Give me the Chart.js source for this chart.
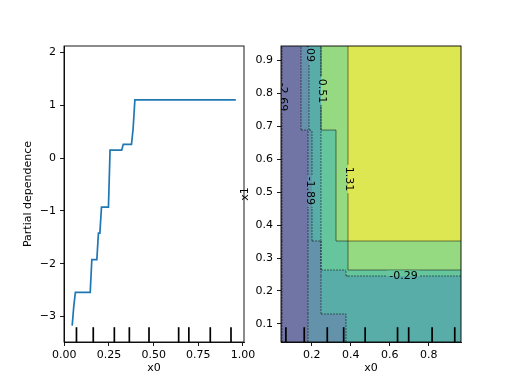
<!DOCTYPE html>
<html><head><meta charset="utf-8">
<script src="https://cdn.jsdelivr.net/npm/chart.js@4.4.0/dist/chart.umd.min.js"></script>
<style>
html,body{margin:0;padding:0;background:#fff;width:512px;height:384px;overflow:hidden}
canvas{position:absolute;top:0}
#c1{left:0}
#c2{left:230px}
</style></head><body>
<canvas id="c1" width="264" height="384"></canvas>
<canvas id="c2" width="282" height="384"></canvas>
<script>
// ---- one-way partial dependence (x0) ----
const pdX = [0.044, 0.053, 0.062, 0.145, 0.154, 0.182, 0.191, 0.199, 0.208, 0.247, 0.256, 0.321, 0.330, 0.376, 0.385, 0.395, 0.960];
const pdY = [-3.17, -2.80, -2.54, -2.54, -1.92, -1.92, -1.42, -1.42, -0.93, -0.93, 0.15, 0.15, 0.26, 0.26, 0.55, 1.10, 1.10];
// deciles of x0
const decilesX0 = [0.068, 0.162, 0.280, 0.364, 0.474, 0.640, 0.697, 0.817, 0.933];

// ---- two-way partial dependence (x0, x1), piecewise constant ----
const x0Edges = [0.043, 0.050, 0.147, 0.180, 0.188, 0.204, 0.248, 0.325, 0.377, 0.387, 0.965];
const x1Edges = [0.045, 0.130, 0.244, 0.264, 0.351, 0.689, 0.944];
// rows from bottom (low x1) to top, columns along x0
const pdGrid = [
  [-3.23, -2.40, -2.05, -1.60, -1.55, -1.35, -1.25, -1.15, -0.95, -0.80],
  [-3.15, -2.30, -1.95, -1.50, -1.45, -1.25, -1.00, -0.90, -0.60, -0.45],
  [-3.10, -2.25, -1.92, -1.45, -1.40, -1.20, -0.95, -0.85, -0.25, -0.15],
  [-3.05, -2.15, -1.95, -1.35, -1.30, -1.15, -0.10, 0.05, 0.30, 0.85],
  [-3.00, -2.10, -1.93, -1.30, -1.20, -0.95, 0.20, 0.70, 1.00, 1.85],
  [-2.95, -2.00, -1.70, -1.20, -0.75, -0.60, 0.75, 0.95, 1.10, 1.85]
];
const levels = [-3.49, -2.69, -1.89, -1.09, -0.29, 0.51, 1.31, 2.11];
// contour label placements (level index, data position)
const labelSpots = [
  {k: 1, x: 0.050, y: 0.789, vertical: true},
  {k: 3, x: 0.190, y: 0.939, vertical: true},
  {k: 5, x: 0.252, y: 0.807, vertical: true},
  {k: 2, x: 0.192, y: 0.504, vertical: true},
  {k: 6, x: 0.391, y: 0.540, vertical: true},
  {k: 4, x: 0.670, y: 0.244, vertical: false}
];

const FONT = {family: 'DejaVu Sans', size: 11};
const bandColors = ['#6f4f93', '#7075a6', '#6392aa', '#59ada9', '#65c59c', '#95da80', '#dde752'];
const minus = s => String(s).replace('-', '\u2212');

function scaleOpts(o) {
  return {
    type: 'linear', min: o.min, max: o.max,
    grid: {display: true, drawOnChartArea: false, drawTicks: true, tickLength: 4, color: '#000', lineWidth: 0.9},
    border: {display: true, color: '#000', width: 0.9},
    ticks: {color: '#000', font: FONT, includeBounds: false, autoSkip: false, maxRotation: 0,
            padding: o.pad, stepSize: o.step, callback: o.fmt},
    title: {display: true, text: o.title, color: '#000', font: FONT, padding: o.tpad},
    afterFit: o.fit
  };
}
const fitX = s => { s.height = 42; s.paddingLeft = 0; s.paddingRight = 0; };
const fitY = s => { s.width = 46; s.paddingTop = 0; s.paddingBottom = 0; };

const framePlugin = {id: 'frame', afterDraw(chart) {
  const a = chart.chartArea, c = chart.ctx;
  c.save(); c.strokeStyle = '#000'; c.lineWidth = 0.9;
  c.strokeRect(a.left, a.top, a.right - a.left, a.bottom - a.top);
  c.restore();
}};
const decilePlugin = {id: 'deciles', afterDatasetsDraw(chart) {
  const a = chart.chartArea, c = chart.ctx, xs = chart.scales.x;
  const h = (a.bottom - a.top) * 0.05;
  c.save(); c.strokeStyle = '#000'; c.lineWidth = 1.7;
  decilesX0.forEach(d => {
    const px = xs.getPixelForValue(d);
    c.beginPath(); c.moveTo(px, a.bottom); c.lineTo(px, a.bottom - h); c.stroke();
  });
  c.restore();
}};

new Chart(document.getElementById('c1'), {
  type: 'scatter',
  data: {datasets: [{data: pdX.map((x, i) => ({x, y: pdY[i]})), showLine: true,
    borderColor: '#1f77b4', borderWidth: 1.7, pointRadius: 0, tension: 0, fill: false}]},
  options: {
    responsive: false, animation: false, devicePixelRatio: 1,
    layout: {padding: {left: 18, right: 20, top: 46, bottom: 0}},
    plugins: {legend: {display: false}, tooltip: {enabled: false}},
    scales: {
      x: scaleOpts({min: -0.0018, max: 1.0058, step: 0.25, pad: 3, fmt: v => v.toFixed(2), title: 'x0', tpad: {top: 0, bottom: 9}, fit: fitX}),
      y: scaleOpts({min: -3.48, max: 2.12, step: 1, pad: 4, fmt: v => minus(v.toFixed(0)), title: 'Partial dependence', tpad: {top: 4, bottom: 0}, fit: fitY})
    }
  },
  plugins: [decilePlugin, framePlugin]
});

function bandOf(v) { let b = 0; for (let k = 1; k < levels.length - 1; k++) if (v >= levels[k]) b = k; return b; }

const contourPlugin = {id: 'contour', beforeDatasetsDraw(chart) {
  const a = chart.chartArea, c = chart.ctx, xs = chart.scales.x, ys = chart.scales.y;
  const X = v => Math.round(xs.getPixelForValue(v)), Y = v => Math.round(ys.getPixelForValue(v));
  const nr = pdGrid.length, nc = pdGrid[0].length;
  c.save();
  c.beginPath(); c.rect(a.left, a.top, a.right - a.left, a.bottom - a.top); c.clip();
  // filled bands
  for (let j = 0; j < nr; j++) for (let i = 0; i < nc; i++) {
    c.fillStyle = bandColors[bandOf(pdGrid[j][i])];
    const x1 = X(x0Edges[i]), x2 = X(x0Edges[i + 1]), y1 = Y(x1Edges[j + 1]), y2 = Y(x1Edges[j]);
    c.fillRect(x1, y1, x2 - x1, y2 - y1);
  }
  // label boxes
  c.font = '11px "DejaVu Sans"';
  const boxes = labelSpots.map(s => {
    const txt = levels[s.k].toFixed(2), w = c.measureText(txt).width;
    const px = xs.getPixelForValue(s.x), py = ys.getPixelForValue(s.y);
    return s.vertical ? {txt, px, py, s, bx: px - 6, by: py - w / 2 - 2, bw: 12, bh: w + 4}
                      : {txt, px, py, s, bx: px - w / 2 - 2, by: py - 6, bw: w + 4, bh: 12};
  });
  // contour lines
  c.save();
  c.beginPath(); c.rect(a.left, a.top, a.right - a.left, a.bottom - a.top);
  boxes.forEach(b => c.rect(b.bx, b.by, b.bw, b.bh));
  c.clip('evenodd');
  c.strokeStyle = '#000'; c.lineWidth = 0.5;
  const seg = (k, xa, ya, xb, yb) => {
    c.setLineDash(levels[k] < 0 ? [2, 1] : []);
    c.beginPath(); c.moveTo(X(xa), Y(ya)); c.lineTo(X(xb), Y(yb)); c.stroke();
  };
  for (let j = 0; j < nr; j++) for (let i = 0; i < nc; i++) {
    const b0 = bandOf(pdGrid[j][i]);
    if (i < nc - 1) {
      const b1 = bandOf(pdGrid[j][i + 1]);
      for (let k = Math.min(b0, b1) + 1; k <= Math.max(b0, b1); k++) seg(k, x0Edges[i + 1], x1Edges[j], x0Edges[i + 1], x1Edges[j + 1]);
    }
    if (j < nr - 1) {
      const b1 = bandOf(pdGrid[j + 1][i]);
      for (let k = Math.min(b0, b1) + 1; k <= Math.max(b0, b1); k++) seg(k, x0Edges[i], x1Edges[j + 1], x0Edges[i + 1], x1Edges[j + 1]);
    }
  }
  c.restore();
  // labels
  c.fillStyle = '#000'; c.textAlign = 'center'; c.textBaseline = 'middle';
  boxes.forEach(b => {
    c.save(); c.translate(b.px, b.py); if (b.s.vertical) c.rotate(Math.PI / 2);
    c.fillText(b.txt, 0, 0); c.restore();
  });
  c.restore();
}};

new Chart(document.getElementById('c2'), {
  type: 'scatter',
  data: {datasets: [{data: []}]},
  options: {
    responsive: false, animation: false, devicePixelRatio: 1,
    layout: {padding: {left: 5, right: 51, top: 46, bottom: 0}},
    plugins: {legend: {display: false}, tooltip: {enabled: false}},
    scales: {
      x: scaleOpts({min: 0.043, max: 0.965, step: 0.2, pad: 3, fmt: v => v.toFixed(1), title: 'x0', tpad: {top: 0, bottom: 9}, fit: fitX}),
      y: scaleOpts({min: 0.045, max: 0.944, step: 0.1, pad: 4, fmt: v => v.toFixed(1), title: 'x1', tpad: {top: 4, bottom: 0}, fit: fitY})
    }
  },
  plugins: [contourPlugin, decilePlugin, framePlugin]
});
</script>
</body></html>
